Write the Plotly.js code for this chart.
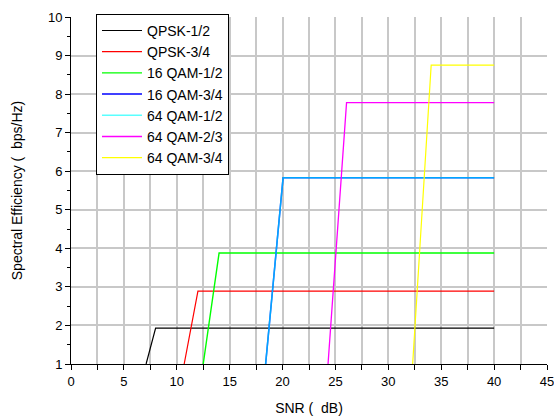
<!DOCTYPE html>
<html>
<head>
<meta charset="utf-8">
<script src="https://cdn.plot.ly/plotly-3.0.1.min.js"></script>
<style>html,body{margin:0;padding:0;background:#fff;}#chart{width:554px;height:417px;}</style>
</head>
<body>
<div id="chart"></div>
<script>
// Series names
const seriesNames = ["QPSK-1/2", "QPSK-3/4", "16 QAM-1/2", "16 QAM-3/4", "64 QAM-1/2", "64 QAM-2/3", "64 QAM-3/4"];
// SNR (dB) points for each series
const snrQpsk12  = [7.1, 8.0, 40];
const snrQpsk34  = [10.7, 12.0, 40];
const snrQam16_12 = [12.5, 14.0, 40];
const snrQam16_34 = [18.4, 20.05, 40];
const snrQam64_12 = [18.4, 20.05, 40];
const snrQam64_23 = [24.3, 26.05, 40];
const snrQam64_34 = [32.3, 34.05, 40];
// Spectral efficiency (bps/Hz) for each series
const seQpsk12  = [1, 1.93, 1.93];
const seQpsk34  = [1, 2.89, 2.89];
const seQam16_12 = [1, 3.88, 3.88];
const seQam16_34 = [1, 5.83, 5.83];
const seQam64_12 = [1, 5.83, 5.83];
const seQam64_23 = [1, 7.78, 7.78];
const seQam64_34 = [1, 8.75, 8.75];

const xs = [snrQpsk12, snrQpsk34, snrQam16_12, snrQam16_34, snrQam64_12, snrQam64_23, snrQam64_34];
const ys = [seQpsk12, seQpsk34, seQam16_12, seQam16_34, seQam64_12, seQam64_23, seQam64_34];
const colors = ["#000000", "#ff0000", "#00ff00", "#0000ff", "#00ffff", "#ff00ff", "#ffff00"];
const widths = [1.2, 1.2, 1.4, 1.5, 1.5, 1.3, 1.2];
const opac = [1, 1, 1, 1, 0.65, 1, 1];

const traces = seriesNames.map((n, i) => ({
  x: xs[i], y: ys[i], name: n, type: "scatter", mode: "lines",
  line: {color: colors[i], width: widths[i]}, opacity: opac[i]
}));

const font = {family: "Liberation Sans, Arial, sans-serif", color: "#000"};
const layout = {
  width: 554, height: 417,
  margin: {l: 71, r: 7, t: 17, b: 53},
  paper_bgcolor: "#fff", plot_bgcolor: "#fff",
  font: Object.assign({size: 13}, font),
  showlegend: true,
  legend: {
    x: 0.0525, y: 1.009, xanchor: "left", yanchor: "top",
    bgcolor: "#fff", bordercolor: "#000", borderwidth: 1,
    font: Object.assign({size: 14}, font),
    tracegroupgap: 0, itemwidth: 40
  },
  xaxis: {
    range: [0, 45], dtick: 5, tick0: 0,
    showline: true, linecolor: "#000", linewidth: 1,
    ticks: "outside", ticklen: 5, tickcolor: "#000",
    showgrid: true, gridcolor: "#c8c8c8", gridwidth: 2,
    zeroline: false, ticklabeloverflow: "allow",
    minor: {dtick: 2.5, ticks: "outside", ticklen: 5, tickcolor: "#000", showgrid: true, gridcolor: "#c8c8c8", gridwidth: 2},
    tickfont: Object.assign({size: 13}, font),
    title: {text: "SNR (  dB)", font: Object.assign({size: 14}, font), standoff: 15}
  },
  yaxis: {
    range: [1, 10], dtick: 1, tick0: 0,
    showline: true, linecolor: "#000", linewidth: 1,
    ticks: "outside", ticklen: 5, tickcolor: "#000",
    showgrid: true, gridcolor: "#c8c8c8", gridwidth: 2,
    zeroline: false,
    minor: {dtick: 0.5, ticks: "outside", ticklen: 3, tickcolor: "#000", showgrid: false},
    tickfont: Object.assign({size: 13}, font),
    title: {text: "Spectral Efficiency (  bps/Hz)", font: Object.assign({size: 14}, font), standoff: 22}
  }
};

Plotly.newPlot("chart", traces, layout, {displayModeBar: false, staticPlot: true});
</script>
</body>
</html>
